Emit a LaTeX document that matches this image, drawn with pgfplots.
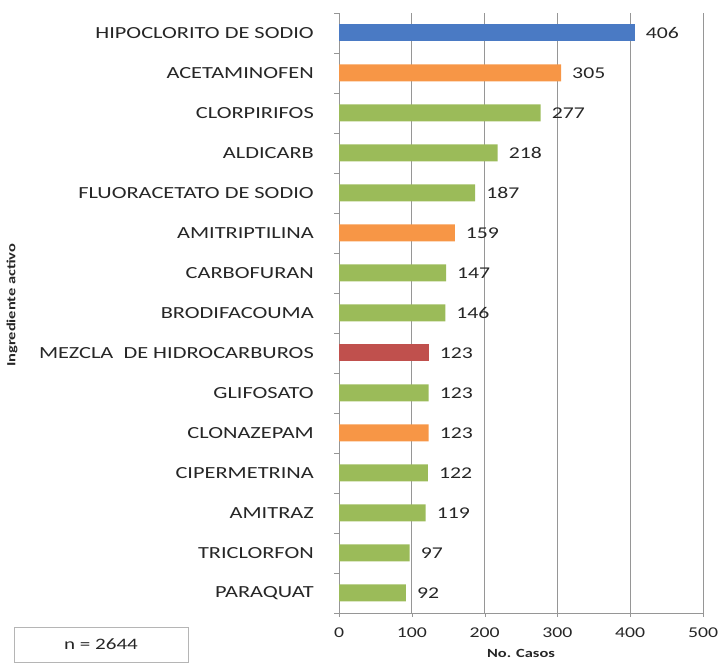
\documentclass[border=0pt]{standalone}
\usepackage{pgfplots}
\pgfplotsset{compat=1.18}
\usepackage{fontspec}
\setmainfont{Carlito}[FakeStretch=1.32]
\definecolor{cblue}{HTML}{4A7AC4}
\definecolor{corange}{HTML}{F79646}
\definecolor{cgreen}{HTML}{9BBB59}
\definecolor{cred}{HTML}{C0504D}
\definecolor{txt}{HTML}{262626}
\definecolor{gridc}{HTML}{969696}
\begin{document}
\begin{tikzpicture}[x=1bp,y=1bp]
\useasboundingbox (0,0) rectangle (724,669);
\begin{axis}[
  at={(339bp,56bp)}, anchor=south west,
  scale only axis, width=364bp, height=600bp,
  xbar, bar width=17bp,
  xmin=0, xmax=500, ymin=-0.5, ymax=14.5,
  /pgf/number format/assume math mode=true,
  axis x line*=bottom, axis y line*=left,
  x axis line style={-, draw=gridc}, y axis line style={-, draw=gridc},
  xtick={0,100,200,300,400,500},
  xmajorgrids, grid style={draw=gridc, line width=0.8pt},
  ytick={0,...,14},
  yticklabels={PARAQUAT,TRICLORFON,AMITRAZ,CIPERMETRINA,CLONAZEPAM,GLIFOSATO,{MEZCLA\ \ DE HIDROCARBUROS},BRODIFACOUMA,CARBOFURAN,AMITRIPTILINA,{FLUORACETATO DE SODIO},ALDICARB,CLORPIRIFOS,ACETAMINOFEN,{HIPOCLORITO DE SODIO}},
  minor ytick={-0.5,0.5,...,14.5},
  tick align=outside,
  major tick length=4bp, minor tick length=5bp,
  major y tick style={draw=none},
  minor y tick style={draw=gridc},
  major x tick style={draw=gridc},
  yticklabel style={font=\fontsize{17}{17}\selectfont, text=txt, inner sep=0pt, xshift=-21bp},
  xticklabel style={font=\fontsize{15}{15}\selectfont, text=txt, inner sep=0pt, yshift=-11bp},
  xlabel={No. Casos},
  xlabel style={font=\bfseries\fontsize{12.5}{12.5}\selectfont, text=txt, at={(axis description cs:0.5,-0.0667)}, anchor=center},
  ylabel={Ingrediente activo},
  ylabel style={font=\bfseries\fontsize{12.5}{12.5}\selectfont, text=txt, at={(axis description cs:-0.898,0.513)}, anchor=center, rotate=0},
  nodes near coords,
  nodes near coords style={anchor=west, inner sep=0pt, xshift=11bp, font=\fontsize{16.5}{16.5}\selectfont, text=txt},
]
\addplot[fill=cgreen, draw=none, bar shift=0pt] coordinates {
 (92,0) (97,1) (119,2) (122,3) (123,5) (146,7) (147,8) (187,10) (218,11) (277,12)};
\addplot[fill=corange, draw=none, bar shift=0pt] coordinates {
 (123,4) (159,9) (305,13)};
\addplot[fill=cred, draw=none, bar shift=0pt] coordinates {
 (123,6)};
\addplot[fill=cblue, draw=none, bar shift=0pt] coordinates {
 (406,14)};
\end{axis}
\node[draw=gridc!70, minimum width=174bp, minimum height=35bp, inner sep=0pt, text=txt, font=\fontsize{16}{16}\selectfont] at (101,24.5) {n = 2644};
\end{tikzpicture}
\end{document}
